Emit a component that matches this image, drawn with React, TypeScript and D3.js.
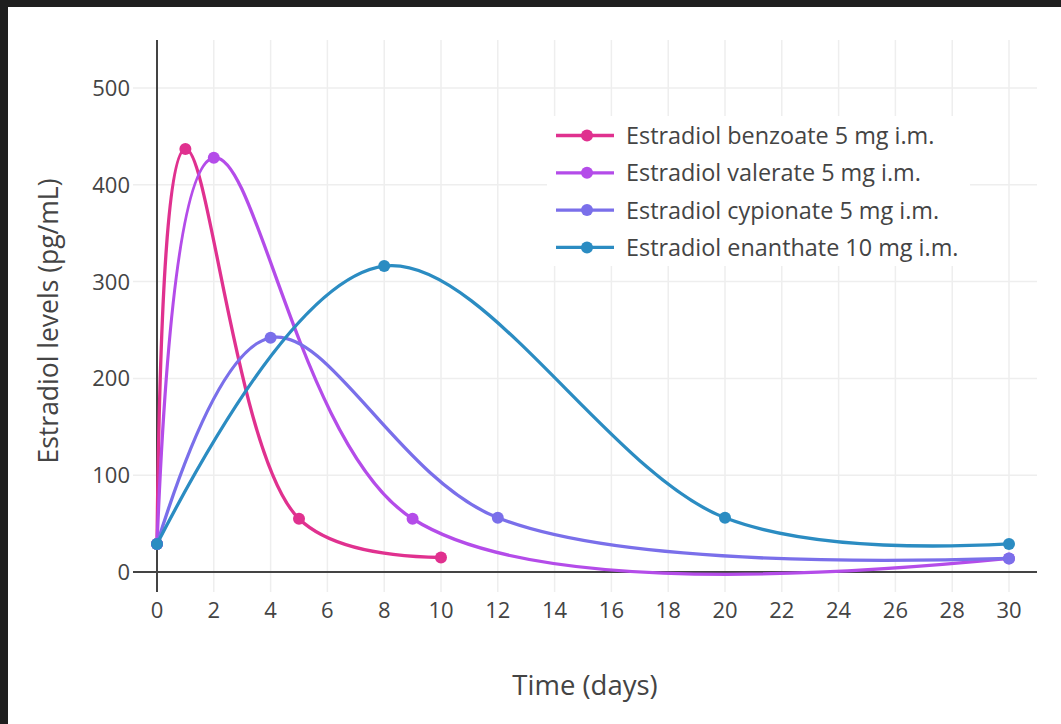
import React from "react";
import * as d3 from "d3";

const seriesNames = [
  "Estradiol benzoate 5 mg i.m.",
  "Estradiol valerate 5 mg i.m.",
  "Estradiol cypionate 5 mg i.m.",
  "Estradiol enanthate 10 mg i.m.",
];
const seriesColors = ["#e0318f", "#b44ce9", "#7a6fea", "#2b8cc2"];

const benzoateDays = [0, 1, 5, 10];
const benzoateLevels = [29, 437, 55, 15];
const valerateDays = [0, 2, 9, 30];
const valerateLevels = [29, 428, 55, 14];
const cypionateDays = [0, 4, 12, 30];
const cypionateLevels = [29, 242, 56, 14];
const enanthateDays = [0, 8, 20, 30];
const enanthateLevels = [29, 316, 56, 29];

const xTicks = [0, 2, 4, 6, 8, 10, 12, 14, 16, 18, 20, 22, 24, 26, 28, 30];
const yTicks = [0, 100, 200, 300, 400, 500];

const W = 1061;
const H = 724;
const plotLeft = 133;
const plotRight = 1037;
const plotTop = 40;
const plotBottom = 592;

const x = d3.scaleLinear().domain([0, 30]).range([157, 1009]);
const y = d3.scaleLinear().domain([0, 500]).range([572, 88]);

type Pt = [number, number];

function makeTangent(p: Pt, t: Pt, n: Pt, s: number): [Pt, Pt] {
  const e = 0.5;
  const d1x = p[0] - t[0], d1y = p[1] - t[1];
  const d2x = n[0] - t[0], d2y = n[1] - t[1];
  const d1a = Math.pow(d1x * d1x + d1y * d1y, e / 2);
  const d2a = Math.pow(d2x * d2x + d2y * d2y, e / 2);
  const numx = (d2a * d2a * d1x - d1a * d1a * d2x) * s;
  const numy = (d2a * d2a * d1y - d1a * d1a * d2y) * s;
  const den1 = d2a * (d1a + d2a) * 3;
  const den2 = d1a * (d1a + d2a) * 3;
  return [
    [t[0] + (den1 && numx / den1), t[1] + (den1 && numy / den1)],
    [t[0] - (den2 && numx / den2), t[1] - (den2 && numy / den2)],
  ];
}

function splinePath(pts: Pt[]): string {
  const p = d3.path();
  p.moveTo(pts[0][0], pts[0][1]);
  const tg: [Pt, Pt][] = [];
  for (let i = 1; i < pts.length - 1; i++) tg.push(makeTangent(pts[i - 1], pts[i], pts[i + 1], 1));
  p.quadraticCurveTo(tg[0][0][0], tg[0][0][1], pts[1][0], pts[1][1]);
  for (let i = 2; i < pts.length - 1; i++) {
    p.bezierCurveTo(tg[i - 2][1][0], tg[i - 2][1][1], tg[i - 1][0][0], tg[i - 1][0][1], pts[i][0], pts[i][1]);
  }
  const last = tg[pts.length - 3][1];
  p.quadraticCurveTo(last[0], last[1], pts[pts.length - 1][0], pts[pts.length - 1][1]);
  return p.toString();
}

const series = [
  { days: benzoateDays, levels: benzoateLevels },
  { days: valerateDays, levels: valerateLevels },
  { days: cypionateDays, levels: cypionateLevels },
  { days: enanthateDays, levels: enanthateLevels },
];

const font = "'Open Sans', 'Noto Sans', sans-serif";

export default function App() {
  return (
    <svg
      width={W}
      height={H}
      style={{ position: "absolute", left: 0, top: 0, background: "#fff" }}
      fontFamily={font}
    >
      <rect x={0} y={0} width={W} height={H} fill="#fff" />
      <defs>
        <clipPath id="plotclip">
          <rect x={plotLeft} y={plotTop} width={plotRight - plotLeft} height={plotBottom - plotTop} />
        </clipPath>
      </defs>
      {/* grid */}
      {xTicks.filter((t) => t !== 0).map((t) => (
        <line key={"gx" + t} x1={x(t)} x2={x(t)} y1={plotTop} y2={plotBottom} stroke="#eeeeee" strokeWidth={1.5} />
      ))}
      {yTicks.filter((t) => t !== 0).map((t) => (
        <line key={"gy" + t} x1={plotLeft} x2={plotRight} y1={y(t)} y2={y(t)} stroke="#eeeeee" strokeWidth={1.5} />
      ))}
      {/* zero lines */}
      <line x1={plotLeft} x2={plotRight} y1={y(0)} y2={y(0)} stroke="#444" strokeWidth={2} />
      <line x1={x(0)} x2={x(0)} y1={plotTop} y2={plotBottom} stroke="#444" strokeWidth={2} />
      {/* series */}
      <g clipPath="url(#plotclip)">
        {series.map((s, i) => {
          const pts: Pt[] = s.days.map((d, j) => [x(d), y(s.levels[j])]);
          return (
            <g key={"s" + i}>
              <path d={splinePath(pts)} fill="none" stroke={seriesColors[i]} strokeWidth={3.3} />
              {pts.map((p, j) => (
                <circle key={j} cx={p[0]} cy={p[1]} r={6} fill={seriesColors[i]} />
              ))}
            </g>
          );
        })}
      </g>
      {/* tick labels */}
      {xTicks.map((t) => (
        <text key={"tx" + t} x={x(t)} y={618} textAnchor="middle" fontSize={22} fill="#444">
          {t}
        </text>
      ))}
      {yTicks.map((t) => (
        <text key={"ty" + t} x={130} y={y(t) + 8} textAnchor="end" fontSize={22} fill="#444">
          {t}
        </text>
      ))}
      {/* axis titles */}
      <text x={585} y={695} textAnchor="middle" fontSize={27.5} fill="#444">
        Time (days)
      </text>
      <text
        transform={`translate(58,${(plotTop + plotBottom) / 2 + 5}) rotate(-90)`}
        textAnchor="middle"
        fontSize={26.5}
        fill="#444"
      >
        Estradiol levels (pg/mL)
      </text>
      {/* legend */}
      <rect x={547} y={116} width={423} height={150} fill="#fff" />
      {seriesNames.map((n, i) => {
        const ly = 135.5 + i * 37.3;
        return (
          <g key={"lg" + i}>
            <line x1={556} x2={614} y1={ly} y2={ly} stroke={seriesColors[i]} strokeWidth={3.3} />
            <circle cx={587} cy={ly} r={6} fill={seriesColors[i]} />
            <text x={626} y={ly + 8.5} fontSize={23.4} fill="#444">
              {n}
            </text>
          </g>
        );
      })}
      {/* dark frame */}
      <rect x={0} y={0} width={W} height={7} fill="#1f1f1f" />
      <rect x={0} y={0} width={8} height={H} fill="#1f1f1f" />
    </svg>
  );
}
